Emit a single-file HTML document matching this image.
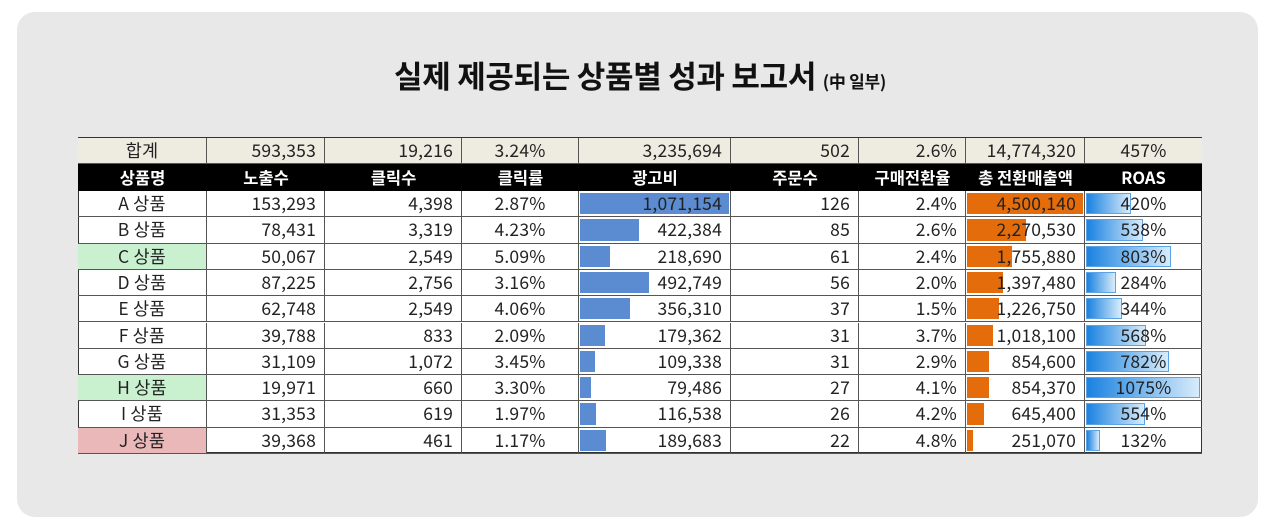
<!DOCTYPE html>
<html><head><meta charset="utf-8"><style>
body{margin:0;width:1280px;height:526px;background:#fff;font-family:"Liberation Sans","Noto Sans CJK KR",sans-serif;position:relative;overflow:hidden}
#card{position:absolute;left:17px;top:12px;width:1241px;height:505px;background:#e8e8e8;border-radius:18px}
#title{position:absolute;left:0;width:1280px;top:55px;text-align:center;font-size:31px;font-weight:bold;color:#111;font-family:"Noto Sans CJK KR",sans-serif;letter-spacing:-0.3px;line-height:40px}
#title small{font-size:17px}
#tbl{position:absolute;left:78px;top:137px;width:1124px;height:316px;background:#fff;border:1px solid #333;box-sizing:border-box}
.c{position:absolute;box-sizing:border-box;font-size:17.5px;letter-spacing:0.2px;color:#222;line-height:26px;white-space:nowrap;font-family:"Noto Sans CJK KR",sans-serif;font-weight:400}
.bar{position:absolute}
</style></head><body>
<div id="card"></div>
<div id="title">실제 제공되는 상품별 성과 보고서 <small>(中 일부)</small></div>
<div id="tbl"></div>
<script>
const products=["A 상품","B 상품","C 상품","D 상품","E 상품","F 상품","G 상품","H 상품","I 상품","J 상품"];
const impressions=[153293,78431,50067,87225,62748,39788,31109,19971,31353,39368];
const clicks=[4398,3319,2549,2756,2549,833,1072,660,619,461];
const ctr=["2.87%","4.23%","5.09%","3.16%","4.06%","2.09%","3.45%","3.30%","1.97%","1.17%"];
const adCost=[1071154,422384,218690,492749,356310,179362,109338,79486,116538,189683];
const orders=[126,85,61,56,37,31,31,27,26,22];
const cvr=["2.4%","2.6%","2.4%","2.0%","1.5%","3.7%","2.9%","4.1%","4.2%","4.8%"];
const revenue=[4500140,2270530,1755880,1397480,1226750,1018100,854600,854370,645400,251070];
const roas=[420,538,803,284,344,568,782,1075,554,132];
const headers=["상품명","노출수","클릭수","클릭률","광고비","주문수","구매전환율","총 전환매출액","ROAS"];
const totals=["합계","593,353","19,216","3.24%","3,235,694","502","2.6%","14,774,320","457%"];
const highlight={2:"#c9f0cf",7:"#c9f0cf",9:"#eab8b8"};
const xs=[78,207,325,462,579,731,859,966,1085,1202];
const align=["center","right","right","center","right","right","right","right","center"];
const T=document.getElementById('tbl');
const fmt=n=>n.toLocaleString('en-US');
const rowY=i=>190+i*26.3-137;
function cell(col,y,h,txt,opts){
  const d=document.createElement('div');d.className='c';
  d.style.left=(xs[col]-79)+'px';d.style.width=(xs[col+1]-xs[col])+'px';
  d.style.top=y+'px';d.style.height=h+'px';d.style.lineHeight=h+'px';
  d.style.textAlign=opts.align;d.style.padding=opts.align==='right'?'0 8px 0 0':'0';
  if(opts.bg)d.style.background=opts.bg;
  if(opts.color)d.style.color=opts.color;
  if(opts.bold){d.style.fontWeight='bold';d.style.letterSpacing='0';d.style.fontSize='16.5px';}
  d.style.borderRight=col<8?'1px solid #555':'none';
  d.style.borderBottom=opts.bb||'1px solid #555';
  if(opts.bar){const b=document.createElement('div');b.className='bar';b.style.left='1px';b.style.top='2px';b.style.height=(h-5)+'px';b.style.width=opts.bar.w+'px';b.style.background=opts.bar.c;if(opts.bar.border)b.style.border=opts.bar.border;b.style.boxSizing='border-box';d.appendChild(b);
    const s=document.createElement('span');s.style.position='relative';s.textContent=txt;d.appendChild(s);}
  else d.textContent=txt;
  T.appendChild(d);return d;
}
for(let c=0;c<9;c++){
  const t=cell(c,0,26,totals[c],{align:c===6?'right':align[c],bg:'#eeece1'});
  
  
  const h=cell(c,26,27,headers[c],{align:'center',bg:'#000',color:'#fff',bold:true,bb:'none'});
  
  
  if(c<8)h.style.borderRight='none';
}
const maxAd=Math.max(...adCost),maxRev=Math.max(...revenue),maxRoas=Math.max(...roas);
for(let i=0;i<10;i++){
  const y=rowY(i),h=26.3;
  const vals=[products[i],fmt(impressions[i]),fmt(clicks[i]),ctr[i],fmt(adCost[i]),String(orders[i]),cvr[i],fmt(revenue[i]),roas[i]+'%'];
  for(let c=0;c<9;c++){
    const o={align:align[c]};
    if(c===0&&highlight[i])o.bg=highlight[i];
    const w=xs[c+1]-xs[c]-3;
    if(c===4)o.bar={w:w*adCost[i]/maxAd,c:'#5b8bd0'};
    if(c===7)o.bar={w:w*revenue[i]/maxRev,c:'#e46c0a'};
    if(c===8)o.bar={w:w*roas[i]/maxRoas,c:'linear-gradient(90deg,#1a82e0,#d8ecfb)',border:'1px solid #5aa3e6'};
    const d=cell(c,y,h,vals[c],o);
    
    
  }
}
</script>
</body></html>
